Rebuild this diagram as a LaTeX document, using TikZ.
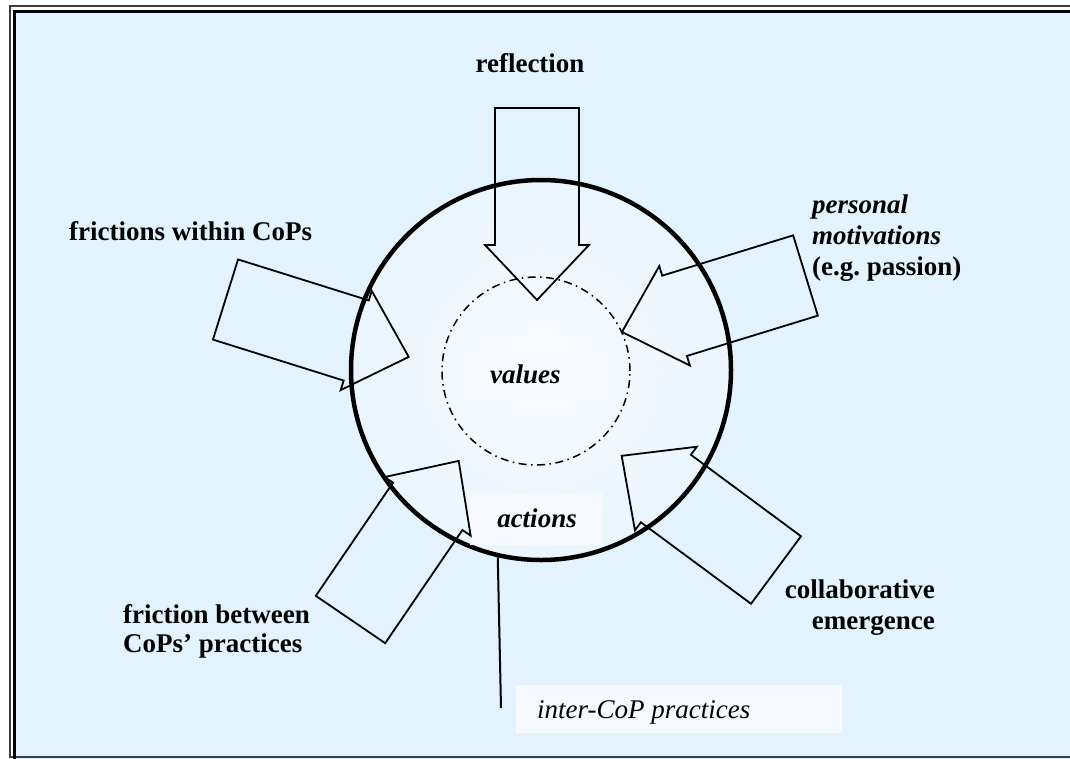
\documentclass[tikz,border=0pt]{standalone}
\usepackage{fontspec}
\setmainfont{Liberation Serif}
\frenchspacing
\definecolor{bgblue}{RGB}{226,243,253}
\definecolor{circin}{RGB}{249,252,255}
\definecolor{circout}{RGB}{234,245,254}
\definecolor{labbg}{RGB}{246,250,255}
\definecolor{framegray}{RGB}{60,60,60}
\tikzset{
  blockarrow/.style={draw=black, line width=1.8pt, line join=miter},
  lab/.style={inner sep=0pt, font=\fontsize{27}{31}\selectfont\bfseries},
  labit/.style={inner sep=0pt, font=\fontsize{27}{31}\selectfont\bfseries\itshape},
  labrm/.style={inner sep=0pt, font=\fontsize{27}{31}\selectfont\itshape},
  labbox/.style={fill=labbg, draw=none}
}
\newcommand{\myarrow}[3]{%
  \draw[blockarrow, shift={(#1,#2)}, rotate=-#3]
    (0,-42) -- (137,-42) -- (137,-52) -- (192,0) -- (137,52) -- (137,42) -- (0,42) -- cycle;}
\begin{document}
\begin{tikzpicture}[x=1pt,y=-1pt]
\useasboundingbox (0,0) rectangle (1070,758);
\clip (0,0) rectangle (1070,758);
\fill[white] (0,0) rectangle (1070,758);
\fill[bgblue] (14.3,11.3) rectangle (1080,770);
% frame
\draw[framegray, line width=2pt] (9.5,6.2) rectangle (1080,757);
\draw[black, line width=3pt] (14.3,11.3) rectangle (1085,775);
% label background (outside circle)
\fill[labbox] (516,685) rectangle (842,733);
% big circle
\node[circle, minimum size=380pt, inner sep=0pt, line width=4.5pt, draw=black,
      inner color=circin, outer color=circout] (outer) at (541,370) {};
\fill[labbox] (470,348) rectangle (603,397);
\fill[labbox] (470,493) rectangle (603,545);
% inner circle
\node[circle, minimum size=188pt, inner sep=0pt, line width=1.5pt, draw=black,
      dash pattern=on 8pt off 4.5pt on 1.5pt off 4.5pt] (inner) at (536,371) {};
% arrows
\myarrow{537}{108}{90}
\myarrow{805.5}{275.5}{162.9}
\myarrow{225.5}{299.5}{17.4}
\myarrow{350.5}{619.5}{-55.7}
\myarrow{776}{570}{-143.5}
% connector to label
\coordinate (lineend) at (501,708);
\draw[line width=2pt] (outer.257.8) -- (lineend);
% texts
\node[lab, anchor=base] (trefl) at (530,72) {reflection};
\node[lab, anchor=base west] (twithin) at (69,240) {frictions within CoPs};
\node[labit, anchor=base west] (tpers1) at (812,213) {personal};
\node[labit, anchor=base west] (tpers2) at (812,244) {motivations};
\node[lab, anchor=base west] (tpers3) at (812,275) {(e.g. passion)};
\node[lab, anchor=base west] (tbetw1) at (123,623) {friction between};
\node[lab, anchor=base west] (tbetw2) at (123,652) {CoPs’ practices};
\node[lab, anchor=base east] (tcoll1) at (935,598) {collaborative};
\node[lab, anchor=base east] (tcoll2) at (935,629) {emergence};
\node[labit, anchor=base west] (tvalues) at (490,383) {values};
\node[labit, anchor=base] (tactions) at (537,527) {actions};
\node[labrm, anchor=base west] (tinter) at (537,718) {inter-CoP practices};
\end{tikzpicture}
\end{document}
